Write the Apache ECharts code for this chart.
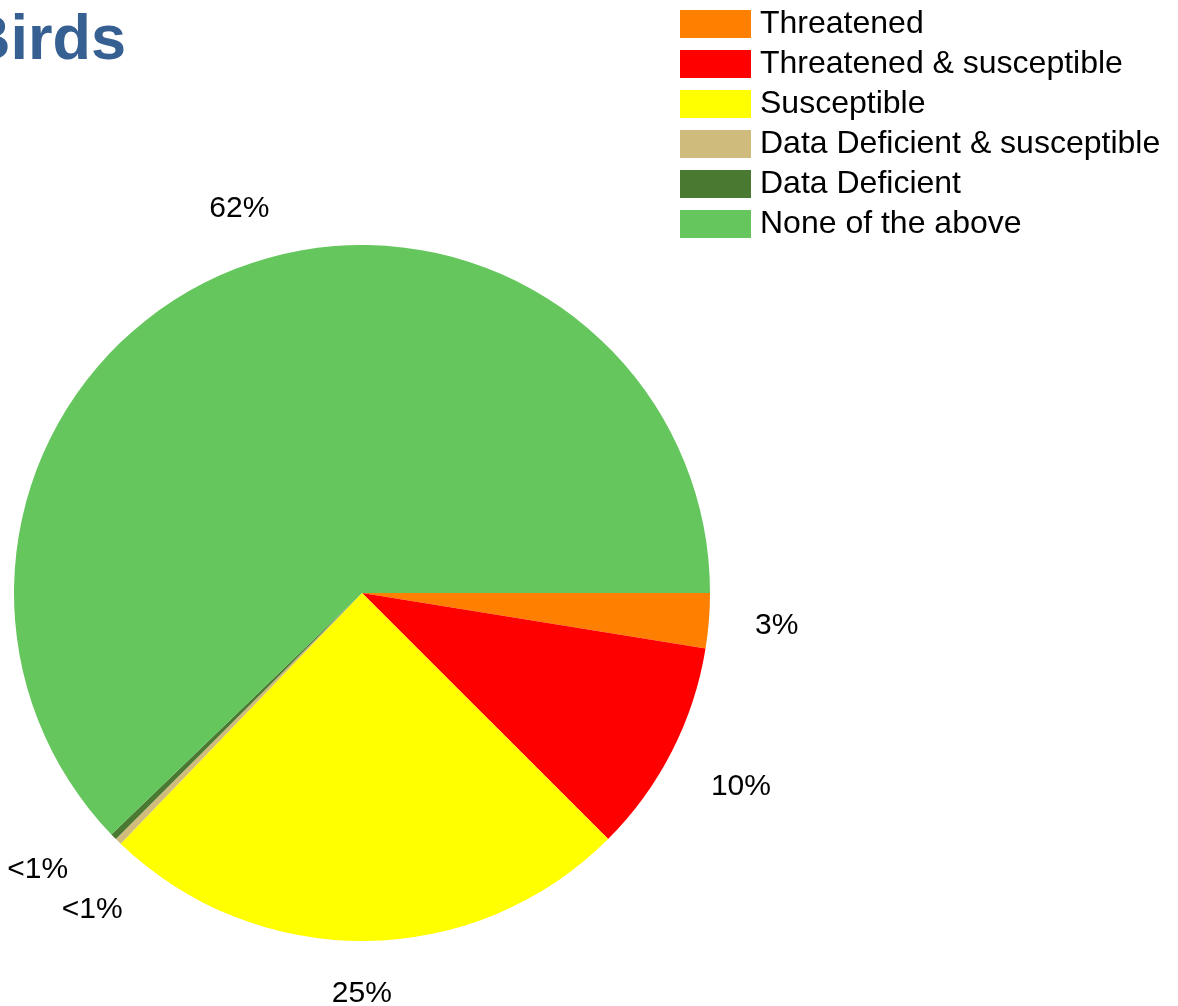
<!DOCTYPE html>
<html>
<head>
<meta charset="utf-8">
<script src="https://cdn.jsdelivr.net/npm/echarts@6/dist/echarts.min.js"></script>
<style>
html, body { margin: 0; padding: 0; background: #fff; }
#chart { width: 1178px; height: 1006px; }
</style>
</head>
<body>
<div id="chart"></div>
<script>
const categories = ['Threatened', 'Threatened & susceptible', 'Susceptible', 'Data Deficient & susceptible', 'Data Deficient', 'None of the above'];
const values = [2.55, 9.95, 24.7, 0.3, 0.3, 62.2];
const colors = ['#FF8000', '#FF0000', '#FFFF00', '#CFBB7B', '#4A7A32', '#64C65C'];
// label nudges (Excel best-fit placement) per slice
const labelOffsets = [[5, 0], [13, 7], [-4, -10], [18, 23], [-31, -11], [31, -3]];

const FONT = 'Liberation Sans, Arial, sans-serif';
const fmt = p => (p.percent < 1 ? '<1%' : Math.round(p.percent) + '%');

const mainData = categories.map((c, i) => ({ name: c, value: values[i], itemStyle: { color: colors[i] } }));
const labelData = categories.map((c, i) => ({ name: c, value: values[i], label: { offset: labelOffsets[i] } }));

const chart = echarts.init(document.getElementById('chart'), null, { renderer: 'canvas' });
chart.setOption({
  backgroundColor: '#ffffff',
  animation: false,
  title: {
    text: 'Birds',
    left: -35,
    top: 10,
    padding: 0,
    textStyle: { fontFamily: FONT, fontSize: 63, fontWeight: 'bold', color: '#376092' }
  },
  legend: {
    orient: 'vertical',
    left: 680,
    top: 8,
    padding: 0,
    itemWidth: 71,
    itemHeight: 28,
    itemGap: 8,
    icon: 'rect',
    data: categories,
    textStyle: { fontFamily: FONT, fontSize: 32, color: '#000', padding: [0, 0, 0, 4] }
  },
  series: [
    {
      type: 'pie',
      center: [362, 593],
      radius: [0, 348],
      startAngle: 0,
      clockwise: true,
      label: { show: false },
      labelLine: { show: false },
      itemStyle: { borderWidth: 0 },
      emphasis: { scale: false },
      data: mainData
    },
    {
      type: 'pie',
      silent: true,
      center: [362, 593],
      radius: [348, 468],
      startAngle: 0,
      clockwise: true,
      itemStyle: { color: 'rgba(0,0,0,0)', borderWidth: 0 },
      label: {
        show: true,
        position: 'inside',
        formatter: fmt,
        fontFamily: FONT,
        fontSize: 30,
        color: '#000'
      },
      labelLine: { show: false },
      emphasis: { disabled: true },
      data: labelData
    }
  ]
});
</script>
</body>
</html>
